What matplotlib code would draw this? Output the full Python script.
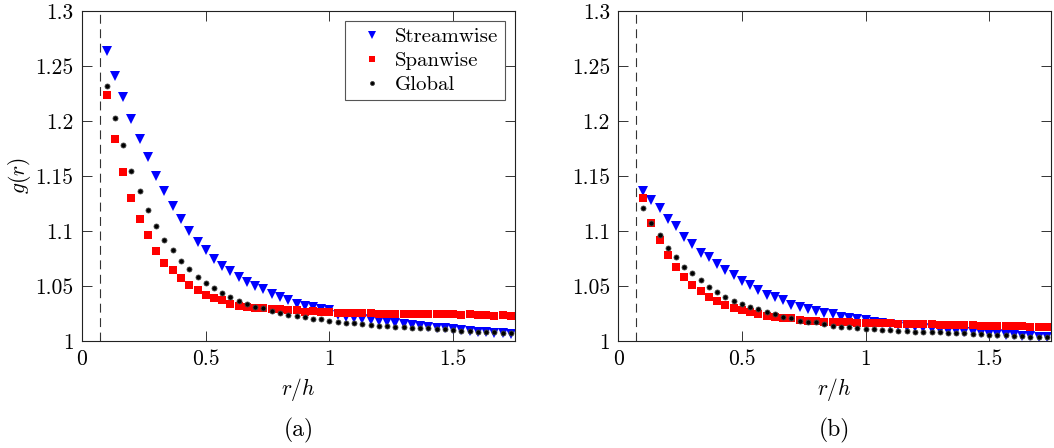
import matplotlib
matplotlib.use("Agg")
import matplotlib.pyplot as plt

plt.rcParams['font.family'] = 'serif'
plt.rcParams['font.serif'] = ['cmr10']
plt.rcParams['mathtext.fontset'] = 'cm'
plt.rcParams['axes.unicode_minus'] = False

# separation r/h (same grid in both panels)
r = [0.100, 0.133, 0.167, 0.200, 0.233, 0.267, 0.300, 0.333, 0.367, 0.400,
     0.433, 0.467, 0.500, 0.533, 0.567, 0.600, 0.633, 0.667, 0.700, 0.733,
     0.767, 0.800, 0.833, 0.867, 0.900, 0.933, 0.967, 1.000, 1.033, 1.067,
     1.100, 1.133, 1.167, 1.200, 1.233, 1.267, 1.300, 1.333, 1.367, 1.400,
     1.433, 1.467, 1.500, 1.533, 1.567, 1.600, 1.633, 1.667, 1.700, 1.733]

# panel (a)
stream_a = [1.264, 1.241, 1.222, 1.202, 1.184, 1.167, 1.150, 1.136, 1.123, 1.111,
            1.100, 1.090, 1.083, 1.075, 1.068, 1.064, 1.058, 1.054, 1.050, 1.047,
            1.043, 1.040, 1.037, 1.034, 1.032, 1.031, 1.029, 1.028, 1.024, 1.022,
            1.021, 1.020, 1.019, 1.018, 1.017, 1.016, 1.0155, 1.015, 1.014, 1.013,
            1.012, 1.0115, 1.011, 1.010, 1.0094, 1.0085, 1.008, 1.0076, 1.007, 1.0064]
span_a = [1.224, 1.184, 1.154, 1.130, 1.111, 1.096, 1.082, 1.071, 1.065, 1.057,
          1.051, 1.046, 1.042, 1.039, 1.037, 1.034, 1.032, 1.031, 1.030, 1.0297,
          1.029, 1.0295, 1.028, 1.028, 1.0267, 1.0273, 1.0267, 1.0267, 1.0258, 1.0258,
          1.0258, 1.0258, 1.0258, 1.0245, 1.0245, 1.025, 1.0242, 1.0242, 1.0242, 1.0242,
          1.0242, 1.0242, 1.0242, 1.0236, 1.0242, 1.0236, 1.0236, 1.023, 1.0236, 1.023]
glob_a = [1.232, 1.203, 1.178, 1.155, 1.136, 1.119, 1.105, 1.092, 1.083, 1.073,
          1.0655, 1.0585, 1.0524, 1.048, 1.0433, 1.040, 1.0367, 1.0336, 1.031, 1.0297,
          1.0275, 1.0258, 1.0236, 1.023, 1.0215, 1.020, 1.0197, 1.0185, 1.0176, 1.0167,
          1.016, 1.0155, 1.0145, 1.014, 1.0136, 1.013, 1.0124, 1.0121, 1.0115, 1.0115,
          1.011, 1.0106, 1.010, 1.0094, 1.0094, 1.0085, 1.0085, 1.0079, 1.0076, 1.007]

# panel (b)
stream_b = [1.136, 1.128, 1.121, 1.111, 1.1045, 1.095, 1.088, 1.080, 1.076, 1.070,
            1.0645, 1.060, 1.0545, 1.051, 1.046, 1.042, 1.040, 1.037, 1.0327, 1.0306,
            1.0288, 1.0276, 1.0252, 1.0242, 1.0221, 1.0212, 1.020, 1.019, 1.0176, 1.0167,
            1.0155, 1.0145, 1.013, 1.0124, 1.0115, 1.0106, 1.010, 1.0094, 1.009, 1.0085,
            1.0079, 1.007, 1.0064, 1.006, 1.0055, 1.0055, 1.0048, 1.0045, 1.004, 1.004]
span_b = [1.130, 1.107, 1.092, 1.078, 1.067, 1.058, 1.051, 1.0455, 1.040, 1.036,
          1.033, 1.030, 1.028, 1.026, 1.0245, 1.023, 1.022, 1.021, 1.0206, 1.019,
          1.0185, 1.0185, 1.0176, 1.0176, 1.0176, 1.017, 1.0167, 1.0167, 1.016, 1.016,
          1.016, 1.0155, 1.0155, 1.0152, 1.0152, 1.0152, 1.0145, 1.0145, 1.0145, 1.0145,
          1.0145, 1.014, 1.014, 1.014, 1.0136, 1.0136, 1.0136, 1.013, 1.0124, 1.0124]
glob_b = [1.1206, 1.107, 1.096, 1.085, 1.076, 1.0676, 1.0615, 1.0555, 1.0494, 1.0442,
          1.040, 1.0367, 1.0336, 1.031, 1.0288, 1.026, 1.0242, 1.022, 1.0206, 1.0185,
          1.0176, 1.017, 1.0155, 1.014, 1.013, 1.0124, 1.0115, 1.011, 1.0106, 1.010,
          1.010, 1.0094, 1.009, 1.0085, 1.0079, 1.0079, 1.0079, 1.0076, 1.007, 1.007,
          1.0064, 1.006, 1.0055, 1.0055, 1.0055, 1.0048, 1.0045, 1.004, 1.004, 1.0038]

r_cut = 0.073  # dashed vertical line
xticks = [0, 0.5, 1, 1.5]
xtick_labels = ['0', '0.5', '1', '1.5']
yticks = [1, 1.05, 1.1, 1.15, 1.2, 1.25, 1.3]
ytick_labels = ['1', '1.05', '1.1', '1.15', '1.2', '1.25', '1.3']

fig = plt.figure(figsize=(10.54, 4.48), dpi=100)
ax_a = fig.add_axes([0.0778, 0.2388, 0.4108, 0.7366])
ax_b = fig.add_axes([0.5866, 0.2388, 0.4105, 0.7366])

fs = 15.5
for ax, s, p, g in [(ax_a, stream_a, span_a, glob_a), (ax_b, stream_b, span_b, glob_b)]:
    ax.axvline(r_cut, color='#333333', linestyle=(0, (8, 5)), linewidth=0.8)
    ax.plot(r, s, 'v', color='blue', markersize=7, markeredgewidth=0, label='Streamwise')
    ax.plot(r, p, 's', color='red', markersize=5.5, markeredgewidth=0, label='Spanwise')
    ax.plot(r, g, 'o', markerfacecolor='black', markeredgecolor='#444444',
            markersize=3.6, markeredgewidth=0.6, label='Global')
    ax.set_xlim(0, 1.75)
    ax.set_ylim(1, 1.3)
    ax.set_xticks(xticks)
    ax.set_xticklabels(xtick_labels, fontsize=fs)
    ax.set_yticks(yticks)
    ax.set_yticklabels(ytick_labels, fontsize=fs)
    ax.tick_params(direction='in', top=True, right=True, length=7, width=0.7,
                   color='#333333', pad=6)
    for sp in ax.spines.values():
        sp.set_linewidth(0.8)
        sp.set_color('#222222')
    ax.set_xlabel('$r/h$', fontsize=fs, labelpad=5)

ax_a.set_ylabel('$g(r)$', fontsize=fs, labelpad=2)
leg = ax_a.legend(loc='upper right', fontsize=15, fancybox=False, framealpha=1,
                  edgecolor='#555555', handletextpad=0.1, borderpad=0.3,
                  labelspacing=0.25, handlelength=2.0, markerscale=0.8)
leg.get_frame().set_linewidth(0.8)

fig.text(0.2832, 0.04, '(a)', fontsize=17, ha='center', va='center')
fig.text(0.7918, 0.04, '(b)', fontsize=17, ha='center', va='center')

fig.savefig('out.png', dpi=100)
